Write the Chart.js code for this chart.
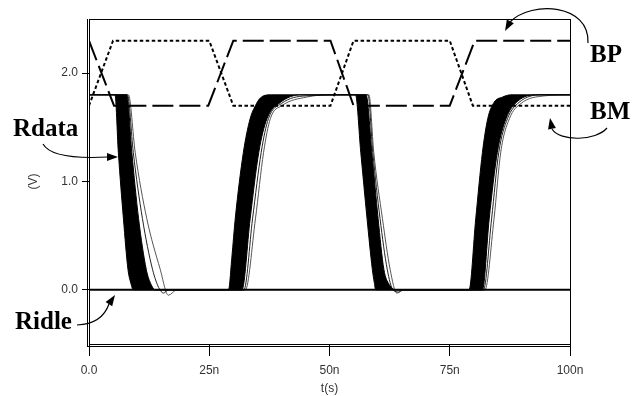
<!DOCTYPE html>
<html>
<head>
<meta charset="utf-8">
<script src="https://cdn.jsdelivr.net/npm/chart.js@4"></script>
<style>
  html, body { margin: 0; padding: 0; background: #fff; }
  #wrap { width: 642px; height: 396px; }
</style>
</head>
<body>
<div id="wrap"><canvas id="chart"></canvas></div>
<script>
// axis ticks
const xTickLabels = ['0.0', '25n', '50n', '75n', '100n'];
const yTickValues = [0, 1, 2];
const yTickLabels = ['0.0', '1.0', '2.0'];

// BP (long dash) and BM (dotted) bias lines, time in ns
const bpTime = [0, 5.2, 24.8, 30, 50.2, 55, 75, 80.2, 100];
const bpVolt = [2.3, 1.7, 1.7, 2.3, 2.3, 1.7, 1.7, 2.3, 2.3];
const bmTime = [0, 5.0, 25, 30, 50.2, 55, 75, 79.8, 100];
const bmVolt = [1.7, 2.3, 2.3, 1.7, 1.7, 2.3, 2.3, 1.7, 1.7];

const ridleTime = [0, 100];
const ridleVolt = [0, 0];

// Rdata bundle: earliest trace, right edge of the solid bundle, two late traces
const rdataFastTime = [0, 5.4, 6.1, 7.15, 8.1, 8.7, 9.2, 29.0, 29.7, 30.4, 32.1, 33.5, 34.6, 35.6, 37.7,
  55.4, 56.5, 57.8, 58.9, 59.3, 59.6, 79.0, 80.4, 81.8, 82.9, 84.2, 86.0, 87.7, 100];
const rdataFastVolt = [1.8, 1.8, 1.27, 0.66, 0.19, 0.06, 0, 0, 0.3, 0.655, 1.27, 1.58, 1.7, 1.77, 1.8,
  1.8, 1.27, 0.66, 0.19, 0.07, 0, 0, 0.655, 1.27, 1.58, 1.73, 1.78, 1.8, 1.8];

const rdataDenseTime = [0, 7.85, 8.9, 10.3, 11.9, 12.8, 13.8, 31.8, 33.5, 35.3, 37.0, 39.8, 44.0,
  57.6, 58.8, 60.1, 61.3, 62.4, 63.9, 81.8, 83.2, 84.9, 86.7, 89.1, 93.3, 100];
const rdataDenseVolt = [1.8, 1.8, 1.27, 0.66, 0.19, 0.06, 0, 0, 0.655, 1.27, 1.58, 1.73, 1.8,
  1.8, 1.27, 0.66, 0.19, 0.05, 0, 0, 0.655, 1.27, 1.58, 1.74, 1.8, 1.8];

const rdataSlowTime = [0, 8.0, 9.2, 11.1, 13.2, 14.5, 15.5, 16.5, 32.2, 34.0, 35.8, 37.3, 40.0, 45.0,
  58.0, 59.0, 60.5, 62.0, 63.2, 64.4, 65.2, 82.0, 83.7, 85.2, 87.0, 89.4, 94.0, 100];
const rdataSlowVolt = [1.8, 1.8, 1.27, 0.66, 0.19, 0.02, -0.03, 0, 0, 0.655, 1.27, 1.58, 1.72, 1.79,
  1.8, 1.27, 0.66, 0.19, 0.0, -0.02, 0, 0, 0.655, 1.27, 1.58, 1.73, 1.8, 1.8];

const rdataSlowestTime = [0, 8.2, 9.6, 12.0, 14.8, 16.5, 18.3, 32.5, 34.6, 36.3, 37.7, 40.1, 45.3, 50,
  58.2, 59.2, 61.0, 62.6, 64.0, 65.5, 82.3, 84.2, 85.6, 87.4, 89.8, 94.6, 100];
const rdataSlowestVolt = [1.8, 1.8, 1.27, 0.66, 0.19, -0.05, 0, 0, 0.655, 1.27, 1.58, 1.7, 1.78, 1.8,
  1.8, 1.27, 0.66, 0.19, -0.03, 0, 0, 0.655, 1.27, 1.58, 1.72, 1.79, 1.8];

function toPoints(times, volts) {
  return times.map((t, i) => ({ x: t, y: volts[i] }));
}

const tickFont = { family: '"Liberation Sans", Arial, sans-serif', size: 12 };

// frame, offset axis lines and the hand-drawn labels with arrows
const frameAndNotes = {
  id: 'frameAndNotes',
  afterDraw(chart) {
    const { ctx, chartArea: a } = chart;
    ctx.save();
    ctx.strokeStyle = '#000';
    ctx.lineWidth = 1;
    ctx.strokeRect(a.left + 0.5, a.top + 0.5, a.right - a.left, a.bottom - a.top);
    ctx.beginPath();
    ctx.moveTo(a.left - 1.5, a.top);
    ctx.lineTo(a.left - 1.5, a.bottom + 3);
    ctx.moveTo(a.left - 2, a.bottom + 2.5);
    ctx.lineTo(a.right + 1, a.bottom + 2.5);
    ctx.stroke();

    ctx.fillStyle = '#000';
    ctx.font = 'bold 25px "Liberation Serif", "Times New Roman", serif';
    ctx.textBaseline = 'alphabetic';
    ctx.fillText('Rdata', 13, 136);
    ctx.fillText('Ridle', 15, 329);
    ctx.fillText('BP', 590, 62);
    ctx.fillText('BM', 590, 119);

    const head = (x, y, fromX, fromY) => {
      const ang = Math.atan2(y - fromY, x - fromX);
      ctx.beginPath();
      ctx.moveTo(x, y);
      ctx.lineTo(x - 11 * Math.cos(ang) + 4 * Math.sin(ang), y - 11 * Math.sin(ang) - 4 * Math.cos(ang));
      ctx.lineTo(x - 11 * Math.cos(ang) - 4 * Math.sin(ang), y - 11 * Math.sin(ang) + 4 * Math.cos(ang));
      ctx.closePath();
      ctx.fill();
    };
    ctx.lineWidth = 1.2;

    ctx.beginPath();
    ctx.moveTo(43, 144);
    ctx.quadraticCurveTo(52, 160, 108, 157);
    ctx.stroke();
    head(118, 157, 108, 157);

    ctx.beginPath();
    ctx.moveTo(77, 325);
    ctx.quadraticCurveTo(102, 324, 109, 304);
    ctx.stroke();
    head(115, 295, 109, 304);

    ctx.beginPath();
    ctx.moveTo(588, 43);
    ctx.bezierCurveTo(590, 4, 532, 0, 510, 22);
    ctx.stroke();
    head(505, 31, 510, 22);

    ctx.beginPath();
    ctx.moveTo(607, 128);
    ctx.bezierCurveTo(596, 141, 560, 142, 552, 129);
    ctx.stroke();
    head(550, 118, 552, 129);
    ctx.restore();
  }
};

const lineBase = { pointRadius: 0, borderColor: '#000', fill: false };

new Chart(document.getElementById('chart'), {
  type: 'line',
  data: {
    datasets: [
      { ...lineBase, label: 'Ridle', data: toPoints(ridleTime, ridleVolt), borderWidth: 2 },
      { ...lineBase, label: 'BP', data: toPoints(bpTime, bpVolt), borderWidth: 2, borderDash: [21, 6] },
      { ...lineBase, label: 'BM', data: toPoints(bmTime, bmVolt), borderWidth: 2, borderDash: [3.5, 2.5] },
      { ...lineBase, label: 'Rdata', data: toPoints(rdataFastTime, rdataFastVolt), borderWidth: 1,
        cubicInterpolationMode: 'monotone', fill: '+1', backgroundColor: '#000' },
      { ...lineBase, label: 'Rdata edge', data: toPoints(rdataDenseTime, rdataDenseVolt), borderWidth: 1,
        cubicInterpolationMode: 'monotone' },
      { ...lineBase, label: 'Rdata late', data: toPoints(rdataSlowTime, rdataSlowVolt), borderWidth: 1,
        borderColor: '#222', cubicInterpolationMode: 'monotone' },
      { ...lineBase, label: 'Rdata latest', data: toPoints(rdataSlowestTime, rdataSlowestVolt), borderWidth: 1,
        borderColor: '#555', cubicInterpolationMode: 'monotone' }
    ]
  },
  options: {
    responsive: true,
    maintainAspectRatio: false,
    animation: false,
    layout: { padding: { top: 19, right: 72, left: 0, bottom: 0 } },
    plugins: { legend: { display: false }, tooltip: { enabled: false } },
    scales: {
      x: {
        type: 'linear',
        min: 0,
        max: 100,
        border: { display: false },
        grid: { drawOnChartArea: false, drawTicks: true, tickLength: 12, color: '#000' },
        ticks: {
          stepSize: 25, padding: 7, color: '#333', font: tickFont, maxRotation: 0,
          callback: (v) => xTickLabels[Math.round(v / 25)]
        },
        title: { display: true, text: 't(s)', color: '#333', font: tickFont, padding: { top: 0, bottom: 0 } },
        afterFit: (scale) => { scale.height = 52; }
      },
      y: {
        min: -0.5,
        max: 2.5,
        border: { display: false },
        grid: { drawOnChartArea: false, drawTicks: true, tickLength: 7, color: '#000' },
        afterBuildTicks: (scale) => { scale.ticks = yTickValues.map(v => ({ value: v })); },
        ticks: {
          padding: 4, color: '#333', font: tickFont,
          callback: (v) => yTickLabels[yTickValues.indexOf(v)]
        },
        title: { display: true, text: '(V)', color: '#333', font: tickFont, padding: { top: 26, bottom: 0 } },
        afterFit: (scale) => { scale.width = 89; }
      }
    }
  },
  plugins: [frameAndNotes]
});
</script>
</body>
</html>
